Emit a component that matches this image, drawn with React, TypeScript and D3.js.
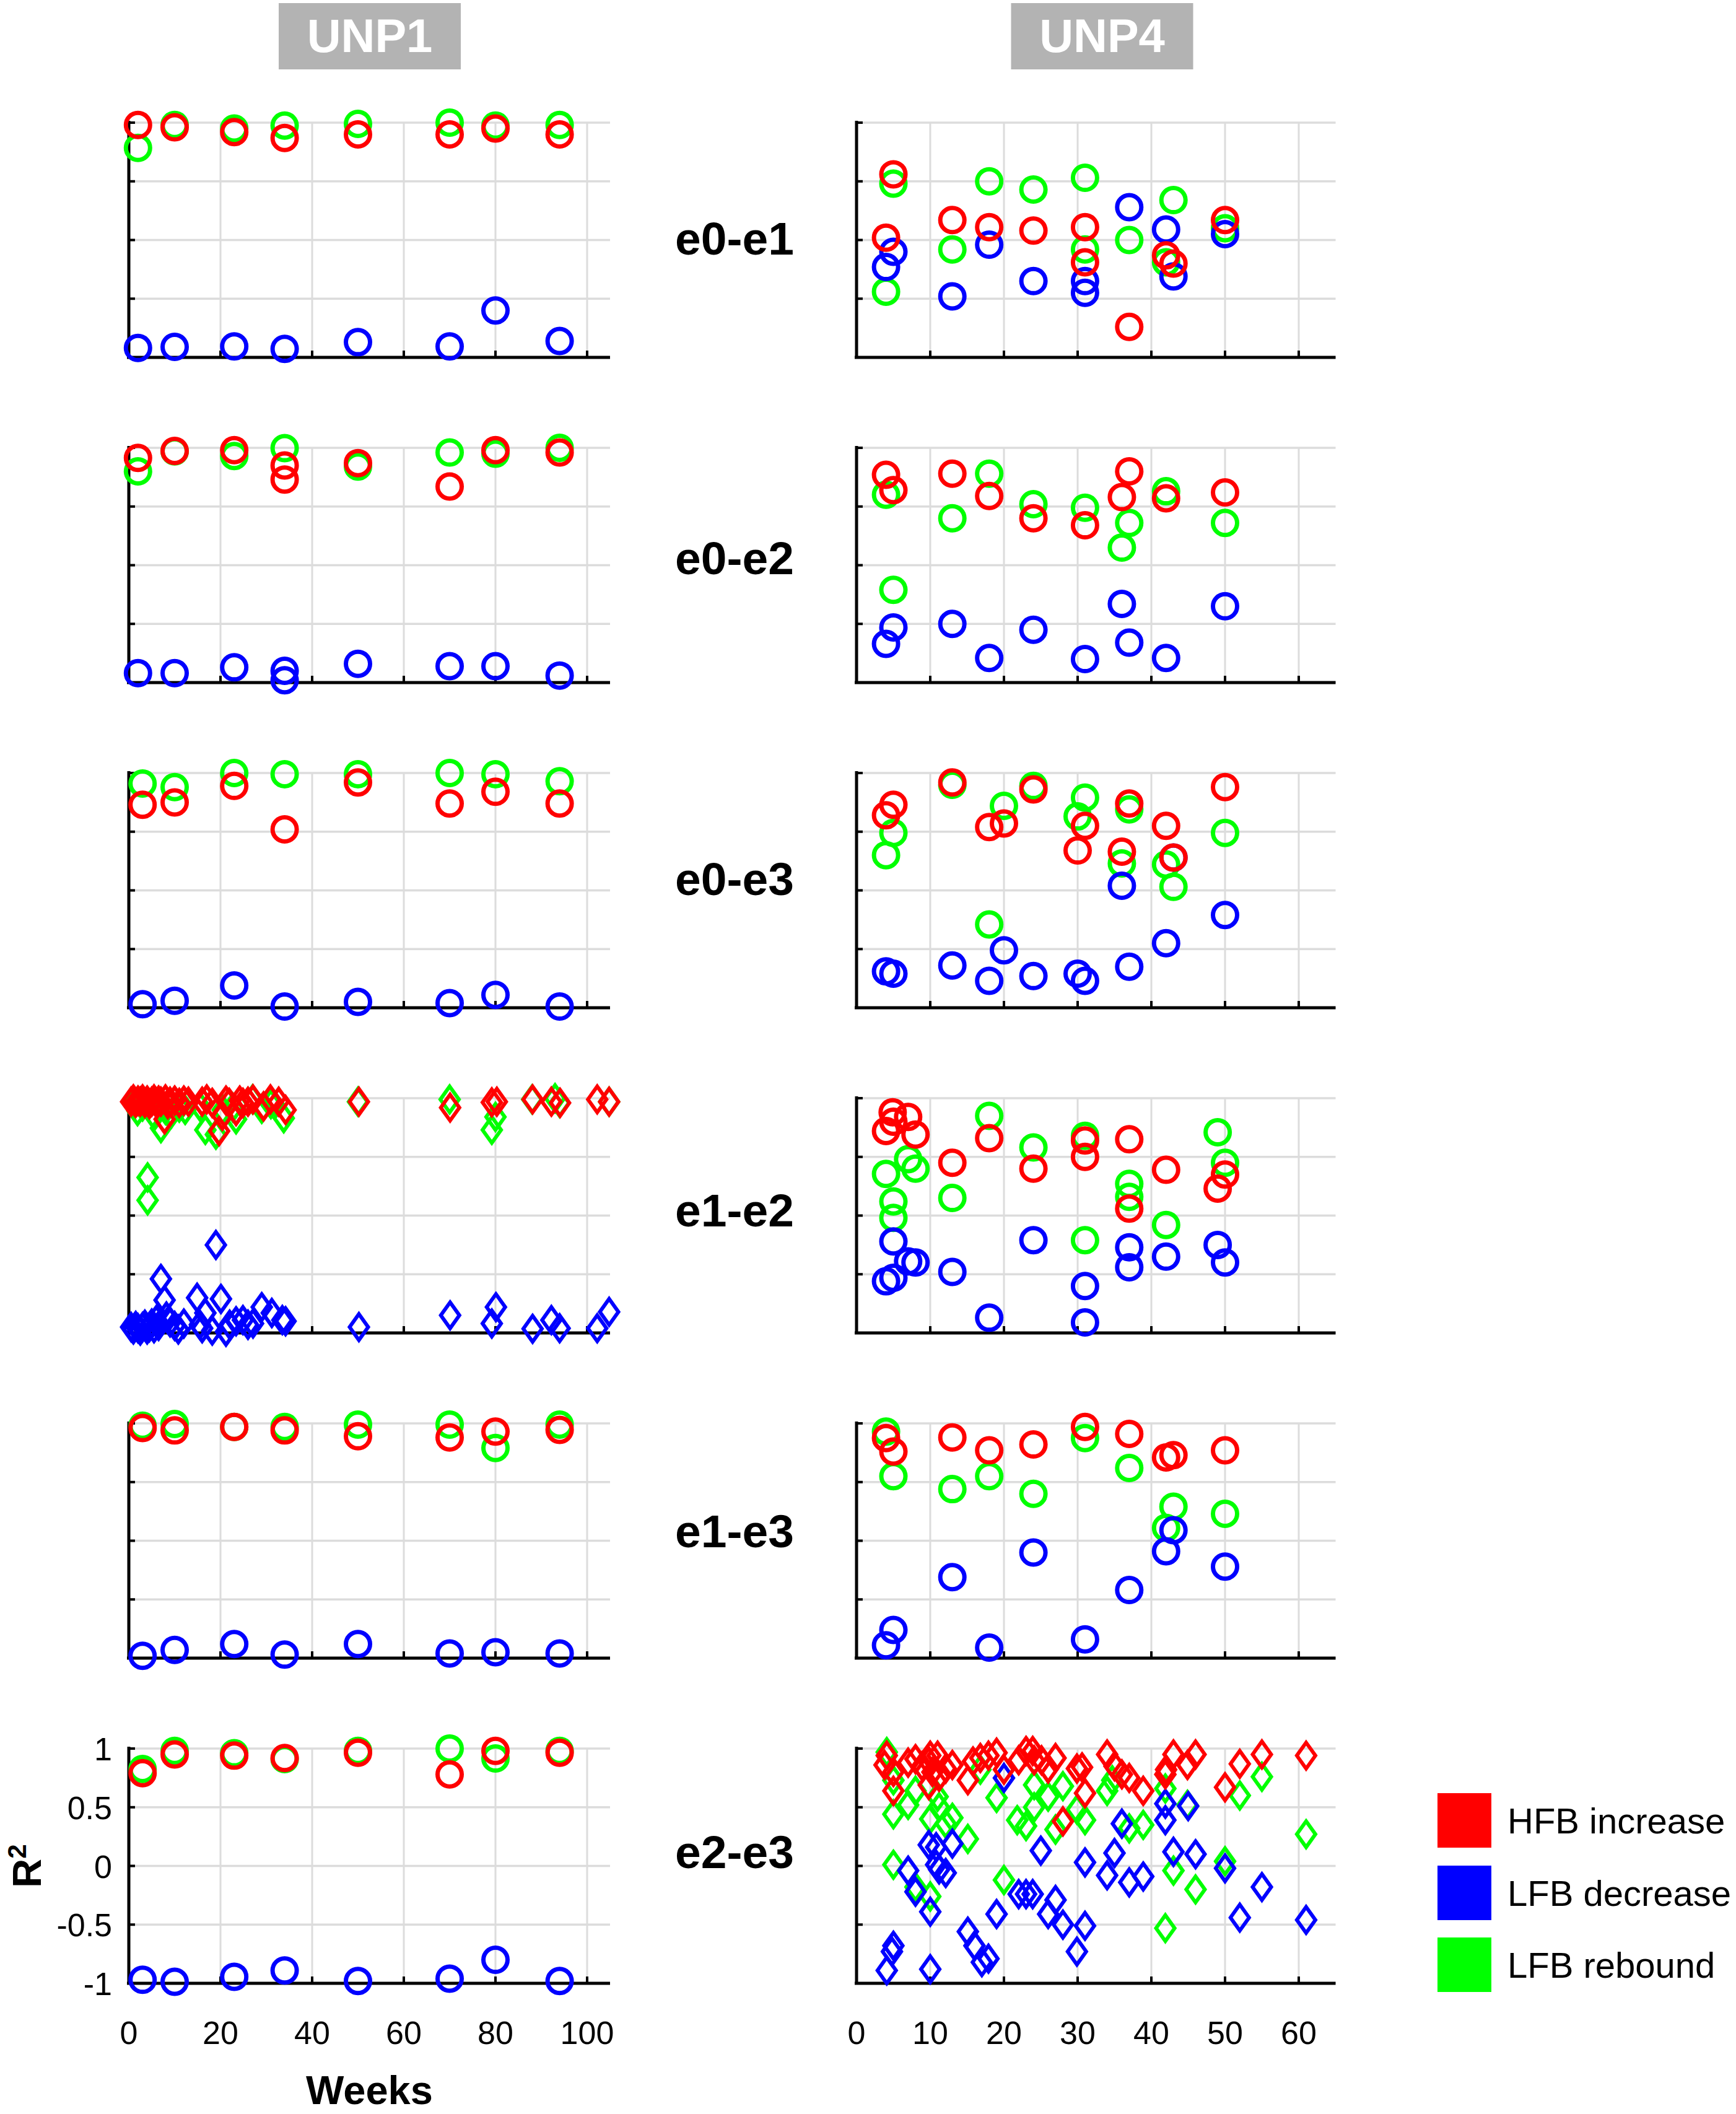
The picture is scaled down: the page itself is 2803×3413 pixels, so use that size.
import React, { useEffect, useRef } from "react";
import * as d3 from "d3";

type Pt = [number, number];

const svgWidth = 2803;
const svgHeight = 3413;

const ROW_LABELS = ["e0-e1", "e0-e2", "e0-e3", "e1-e2", "e1-e3", "e2-e3"];
const COL_TITLES = ["UNP1", "UNP4"];
const UNP1_TICKS = [0, 20, 40, 60, 80, 100];
const UNP4_TICKS = [0, 10, 20, 30, 40, 50, 60];
const R2_TICKS = [-1, -0.5, 0, 0.5, 1];
const LEGEND_LABELS = ["HFB increase", "LFB decrease", "LFB rebound"];
const SERIES_COLORS = ["#ff0000", "#0000ff", "#00ff00"];

// ---- UNP1 (weeks 0-105) ----
const unp1_e0e1_hfb: Pt[] = [[2, 0.98], [10, 0.96], [23, 0.92], [34, 0.87], [50, 0.9], [70, 0.9], [80, 0.95], [94, 0.9]];
const unp1_e0e1_dec: Pt[] = [[2, -0.92], [10, -0.91], [23, -0.906], [34, -0.927], [50, -0.87], [70, -0.906], [80, -0.6], [94, -0.86]];
const unp1_e0e1_reb: Pt[] = [[2, 0.785], [10, 0.98], [23, 0.95], [34, 0.975], [50, 0.99], [70, 1.0], [80, 0.975], [94, 0.98]];

const unp1_e0e2_hfb: Pt[] = [[2, 0.914], [10, 0.974], [23, 0.98], [34, 0.85], [34, 0.73], [50, 0.87], [70, 0.67], [80, 0.98], [94, 0.96]];
const unp1_e0e2_dec: Pt[] = [[2, -0.92], [10, -0.92], [23, -0.87], [34, -0.9], [34, -0.98], [50, -0.84], [70, -0.86], [80, -0.86], [94, -0.94]];
const unp1_e0e2_reb: Pt[] = [[2, 0.8], [10, 0.97], [23, 0.93], [34, 0.997], [50, 0.84], [70, 0.96], [80, 0.95], [94, 1.0]];

const unp1_e0e3_hfb: Pt[] = [[3, 0.73], [10, 0.75], [23, 0.89], [34, 0.52], [50, 0.92], [70, 0.74], [80, 0.84], [94, 0.74]];
const unp1_e0e3_dec: Pt[] = [[3, -0.97], [10, -0.94], [23, -0.81], [34, -0.99], [50, -0.95], [70, -0.96], [80, -0.89], [94, -0.99]];
const unp1_e0e3_reb: Pt[] = [[3, 0.91], [10, 0.88], [23, 1.0], [34, 0.99], [50, 0.99], [70, 1.0], [80, 0.99], [94, 0.93]];

const unp1_e1e2_hfb: Pt[] = [
  [0.5, 0.97], [1, 0.99], [1.5, 0.96], [2, 0.98], [2.5, 0.97], [3, 0.99], [3.5, 0.96], [4, 0.98], [4.5, 0.95],
  [5, 0.97], [5.5, 0.99], [6, 0.96], [6.5, 0.98], [7, 0.97], [7.8, 0.82], [8, 0.99], [8.5, 0.95], [9, 0.97],
  [10, 0.98], [11, 0.96], [12, 0.98], [13, 0.97], [16, 0.97], [17, 0.99], [18.2, 0.96], [19.7, 0.72], [20.4, 0.85],
  [21.2, 0.98], [21.9, 0.96], [23.4, 0.89], [24.2, 0.98], [24.9, 0.96], [26, 0.97], [27.1, 0.99], [29.4, 0.93],
  [30.9, 0.99], [32.7, 0.97], [34.2, 0.9], [50.2, 0.97], [70.1, 0.92], [79.2, 0.965], [80.3, 0.97], [88.1, 0.99],
  [92.2, 0.97], [94.1, 0.96], [102.2, 0.99], [104.8, 0.97],
];
const unp1_e1e2_dec: Pt[] = [
  [0.5, -0.95], [1, -0.97], [1.5, -0.94], [2, -0.96], [2.5, -0.98], [3, -0.95], [3.5, -0.93], [4, -0.97],
  [4.5, -0.95], [5, -0.92], [5.5, -0.96], [6, -0.89], [6.5, -0.94], [7, -0.54], [7.8, -0.72], [8.2, -0.86],
  [9, -0.91], [10, -0.94], [10.8, -0.97], [12, -0.92], [14.9, -0.7], [15.5, -0.93], [16, -0.96], [16.7, -0.83],
  [18.2, -0.98], [19, -0.25], [20.1, -0.71], [21.2, -0.99], [22, -0.93], [23.4, -0.9], [24.9, -0.89], [26, -0.93],
  [27.1, -0.92], [29, -0.78], [31.2, -0.83], [33.5, -0.89], [34.2, -0.9], [50.2, -0.95], [70.1, -0.85],
  [79.2, -0.92], [80.1, -0.78], [88.1, -0.965], [92.2, -0.89], [94, -0.96], [102.2, -0.96], [104.8, -0.82],
];
const unp1_e1e2_reb: Pt[] = [
  [1, 0.95], [1.9, 0.89], [3, 0.93], [4.1, 0.325], [4.1, 0.13], [5.6, 0.85], [7, 0.745], [8, 0.9], [9.3, 0.87],
  [11, 0.92], [12.3, 0.9], [15.5, 0.93], [16.7, 0.73], [19, 0.69], [20.5, 0.9], [22.7, 0.92], [23.4, 0.82],
  [27, 0.99], [29, 0.91], [31, 0.95], [33.8, 0.83], [50, 0.97], [70, 0.99], [79.2, 0.73], [80, 0.84], [88, 0.99],
  [93, 1.0], [94, 0.96], [104.8, 0.97],
];

const unp1_e1e3_hfb: Pt[] = [[3, 0.96], [10, 0.94], [23, 0.97], [34, 0.94], [50, 0.89], [70, 0.88], [80, 0.93], [94, 0.945]];
const unp1_e1e3_dec: Pt[] = [[3, -0.98], [10, -0.93], [23, -0.88], [34, -0.97], [50, -0.88], [70, -0.96], [80, -0.95], [94, -0.96]];
const unp1_e1e3_reb: Pt[] = [[3, 0.98], [10, 0.995], [23, 0.97], [34, 0.97], [50, 0.99], [70, 0.99], [80, 0.79], [94, 0.99]];

const unp1_e2e3_hfb: Pt[] = [[3, 0.79], [10, 0.95], [23, 0.94], [34, 0.92], [50, 0.965], [70, 0.78], [80, 0.98], [94, 0.965]];
const unp1_e2e3_dec: Pt[] = [[3, -0.97], [10, -0.987], [23, -0.944], [34, -0.89], [50, -0.98], [70, -0.96], [80, -0.8], [94, -0.98]];
const unp1_e2e3_reb: Pt[] = [[3, 0.826], [10, 0.98], [23, 0.96], [34, 0.91], [50, 0.98], [70, 1.0], [80, 0.915], [94, 0.98]];

// ---- UNP4 (weeks 0-65) ----
const unp4_e0e1_hfb: Pt[] = [[5, 0.56], [4, 0.02], [13, 0.17], [18, 0.11], [24, 0.08], [31, 0.11], [31, -0.19], [37, -0.74], [42, -0.13], [43, -0.2], [50, 0.17]];
const unp4_e0e1_dec: Pt[] = [[5, -0.1], [4, -0.23], [18, -0.04], [13, -0.48], [24, -0.35], [31, -0.35], [31, -0.45], [37, 0.28], [42, 0.09], [43, -0.31], [50, 0.05]];
const unp4_e0e1_reb: Pt[] = [[5, 0.48], [4, -0.44], [13, -0.08], [18, 0.5], [24, 0.43], [31, 0.53], [31, -0.08], [37, 0.0], [43, 0.34], [42, -0.19], [50, 0.1]];

const unp4_e0e2_hfb: Pt[] = [[4, 0.77], [5, 0.64], [13, 0.78], [18, 0.59], [24, 0.4], [31, 0.34], [36, 0.58], [37, 0.8], [42, 0.57], [50, 0.62]];
const unp4_e0e2_dec: Pt[] = [[4, -0.67], [5, -0.53], [13, -0.5], [18, -0.79], [24, -0.55], [31, -0.8], [36, -0.33], [37, -0.66], [42, -0.79], [50, -0.35]];
const unp4_e0e2_reb: Pt[] = [[4, 0.6], [5, -0.21], [13, 0.4], [18, 0.78], [24, 0.52], [31, 0.49], [36, 0.15], [37, 0.36], [42, 0.63], [50, 0.36]];

const unp4_e0e3_hfb: Pt[] = [[4, 0.64], [5, 0.73], [13, 0.92], [18, 0.54], [20, 0.57], [24, 0.86], [30, 0.34], [31, 0.55], [36, 0.33], [37, 0.74], [42, 0.55], [43, 0.28], [50, 0.88]];
const unp4_e0e3_dec: Pt[] = [[4, -0.69], [5, -0.71], [13, -0.64], [18, -0.77], [20, -0.51], [24, -0.73], [30, -0.71], [31, -0.77], [36, 0.04], [37, -0.65], [42, -0.45], [43, 0.28], [50, -0.21]];
const unp4_e0e3_reb: Pt[] = [[4, 0.3], [5, 0.49], [13, 0.9], [18, -0.29], [20, 0.72], [24, 0.89], [30, 0.63], [31, 0.79], [36, 0.23], [37, 0.69], [42, 0.22], [43, 0.03], [50, 0.49]];

const unp4_e1e2_hfb: Pt[] = [[4, 0.72], [4.9, 0.88], [5, 0.8], [7, 0.84], [8, 0.69], [13, 0.45], [18, 0.66], [24, 0.4], [31, 0.64], [31, 0.5], [37, 0.65], [37, 0.06], [42, 0.39], [49, 0.23], [50, 0.35]];
const unp4_e1e2_dec: Pt[] = [[4, -0.56], [5, -0.22], [5, -0.53], [7, -0.39], [8, -0.4], [13, -0.48], [18, -0.87], [24, -0.21], [31, -0.6], [31, -0.91], [37, -0.27], [37, -0.44], [42, -0.35], [49, -0.25], [50, -0.4]];
const unp4_e1e2_reb: Pt[] = [[4, 0.355], [5, 0.12], [5, -0.02], [7, 0.48], [8, 0.4], [13, 0.15], [18, 0.85], [24, 0.58], [31, 0.68], [31, -0.21], [37, 0.27], [37, 0.16], [42, -0.08], [49, 0.71], [50, 0.45]];

const unp4_e1e3_hfb: Pt[] = [[4, 0.875], [5, 0.76], [13, 0.88], [18, 0.77], [24, 0.82], [31, 0.97], [37, 0.91], [42, 0.71], [43, 0.73], [50, 0.77]];
const unp4_e1e3_dec: Pt[] = [[4, -0.89], [5, -0.76], [13, -0.31], [18, -0.91], [24, -0.1], [31, -0.84], [37, -0.42], [42, -0.09], [43, 0.09], [50, -0.22]];
const unp4_e1e3_reb: Pt[] = [[4, 0.93], [5, 0.55], [13, 0.44], [18, 0.55], [24, 0.4], [31, 0.875], [37, 0.62], [42, 0.11], [43, 0.29], [50, 0.23]];

const unp4_e2e3_hfb: Pt[] = [
  [4.1, 0.94], [3.8, 0.86], [5, 0.8], [5, 0.64], [7, 0.88], [8, 0.91], [8.9, 0.85], [9.8, 0.89], [10, 0.94], [11, 0.94],
  [10.3, 0.8], [9.8, 0.69], [11.2, 0.76], [12.1, 0.83], [13, 0.86], [15.1, 0.73], [15.8, 0.89], [16.8, 0.92],
  [17.9, 0.94], [19, 0.965], [20, 0.82], [22, 0.9], [23, 0.98], [23.9, 0.98], [24.1, 0.9], [25.1, 0.9], [26, 0.83],
  [27, 0.92], [28, 0.38], [29.9, 0.83], [30.6, 0.84], [31, 0.62], [34, 0.95], [35, 0.85], [36, 0.78], [37, 0.75],
  [38.9, 0.64], [41.9, 0.78], [42, 0.82], [43, 0.95], [44.9, 0.86], [46, 0.95], [50, 0.67], [52, 0.87], [55, 0.95],
  [61, 0.94],
];
const unp4_e2e3_dec: Pt[] = [
  [20, 0.75], [9.8, 0.18], [10.8, 0.16], [13, 0.19], [10.8, 0.01], [11.2, -0.03], [12.1, -0.06], [7, -0.04],
  [8, -0.22], [10, -0.39], [5, -0.68], [4.8, -0.73], [4.1, -0.89], [10, -0.88], [15.1, -0.56], [16, -0.68],
  [17, -0.82], [17.9, -0.79], [19, -0.41], [22, -0.24], [23, -0.24], [23.9, -0.24], [25, 0.13], [26, -0.41],
  [27, -0.29], [28, -0.5], [29.9, -0.73], [31, -0.51], [31, 0.03], [34, -0.08], [35, 0.11], [36, 0.36], [37, -0.14],
  [38.9, -0.09], [41.9, 0.53], [41.9, 0.39], [43, 0.12], [45, 0.51], [46, 0.1], [50, -0.02], [52, -0.44],
  [55, -0.18], [61, -0.46],
];
const unp4_e2e3_reb: Pt[] = [
  [4.1, 0.97], [5, 0.73], [5, 0.44], [7, 0.52], [8, 0.64], [5, 0.01], [8, -0.18], [10, -0.26], [10, 0.4], [11, 0.59],
  [11.2, 0.5], [12.1, 0.36], [13, 0.41], [15.1, 0.23], [16.8, 0.82], [19, 0.58], [20, -0.12], [21.8, 0.39],
  [23, 0.34], [24.1, 0.69], [24.1, 0.5], [26, 0.59], [27, 0.31], [28, 0.68], [29.9, 0.48], [31, 0.39], [34, 0.64],
  [34.7, 0.73], [37, 0.32], [38.9, 0.35], [41.9, 0.66], [43, -0.04], [44.9, 0.52], [46, -0.2], [50, 0.04], [52, 0.6],
  [55, 0.76], [41.9, -0.53], [61, 0.27],
];

interface Panel {
  col: number;
  row: number;
  diamond: boolean;
  hfb: Pt[];
  dec: Pt[];
  reb: Pt[];
}

const PANELS: Panel[] = [
  { col: 0, row: 0, diamond: false, hfb: unp1_e0e1_hfb, dec: unp1_e0e1_dec, reb: unp1_e0e1_reb },
  { col: 0, row: 1, diamond: false, hfb: unp1_e0e2_hfb, dec: unp1_e0e2_dec, reb: unp1_e0e2_reb },
  { col: 0, row: 2, diamond: false, hfb: unp1_e0e3_hfb, dec: unp1_e0e3_dec, reb: unp1_e0e3_reb },
  { col: 0, row: 3, diamond: true, hfb: unp1_e1e2_hfb, dec: unp1_e1e2_dec, reb: unp1_e1e2_reb },
  { col: 0, row: 4, diamond: false, hfb: unp1_e1e3_hfb, dec: unp1_e1e3_dec, reb: unp1_e1e3_reb },
  { col: 0, row: 5, diamond: false, hfb: unp1_e2e3_hfb, dec: unp1_e2e3_dec, reb: unp1_e2e3_reb },
  { col: 1, row: 0, diamond: false, hfb: unp4_e0e1_hfb, dec: unp4_e0e1_dec, reb: unp4_e0e1_reb },
  { col: 1, row: 1, diamond: false, hfb: unp4_e0e2_hfb, dec: unp4_e0e2_dec, reb: unp4_e0e2_reb },
  { col: 1, row: 2, diamond: false, hfb: unp4_e0e3_hfb, dec: unp4_e0e3_dec, reb: unp4_e0e3_reb },
  { col: 1, row: 3, diamond: false, hfb: unp4_e1e2_hfb, dec: unp4_e1e2_dec, reb: unp4_e1e2_reb },
  { col: 1, row: 4, diamond: false, hfb: unp4_e1e3_hfb, dec: unp4_e1e3_dec, reb: unp4_e1e3_reb },
  { col: 1, row: 5, diamond: true, hfb: unp4_e2e3_hfb, dec: unp4_e2e3_dec, reb: unp4_e2e3_reb },
];

const FONT = "'Liberation Sans', Arial, Helvetica, sans-serif";

const App = () => {
  const svgRef = useRef<SVGSVGElement>(null);

  useEffect(() => {
    const svg = d3.select(svgRef.current);
    svg.selectAll("*").remove();

    const PANEL_TOP = 198;
    const ROW_STEP = 525;
    const PANEL_H = 379;
    const COLS = [
      { left: 208, width: 777, domain: [0, 105], ticks: UNP1_TICKS, title: 597 },
      { left: 1383, width: 773.5, domain: [0, 65], ticks: UNP4_TICKS, title: 1779.5 },
    ];
    // row labels sit a little above each panel's middle
    const LABEL_SHIFT = [-4, -13, -20, -10, -17, -24];

    // column titles
    COL_TITLES.forEach((t, i) => {
      const cx = COLS[i].title;
      svg.append("rect").attr("x", cx - 147).attr("y", 5).attr("width", 294).attr("height", 107).attr("fill", "#b3b3b3");
      svg
        .append("text")
        .attr("x", cx)
        .attr("y", 84)
        .attr("text-anchor", "middle")
        .attr("font-family", FONT)
        .attr("font-weight", "bold")
        .attr("font-size", 76)
        .attr("fill", "#ffffff")
        .text(t);
    });

    // row labels
    ROW_LABELS.forEach((lab, r) => {
      const cy = PANEL_TOP + r * ROW_STEP + PANEL_H / 2 + LABEL_SHIFT[r];
      svg
        .append("text")
        .attr("x", 1186)
        .attr("y", cy + 27)
        .attr("text-anchor", "middle")
        .attr("font-family", FONT)
        .attr("font-weight", "bold")
        .attr("font-size", 75)
        .attr("fill", "#000")
        .text(lab);
    });

    const diamondPath = "M0,-21L15,0L0,21L-15,0Z";

    PANELS.forEach((p) => {
      const c = COLS[p.col];
      const top = PANEL_TOP + p.row * ROW_STEP;
      const g = svg.append("g").attr("transform", `translate(${c.left}, ${top})`);

      const x = d3.scaleLinear().domain(c.domain).range([0, c.width]);
      const y = d3.scaleLinear().domain([-1, 1]).range([PANEL_H, 0]);

      // grid
      g.selectAll(".hgrid")
        .data(R2_TICKS)
        .enter()
        .append("line")
        .attr("x1", 0)
        .attr("x2", c.width)
        .attr("y1", (d) => y(d))
        .attr("y2", (d) => y(d))
        .attr("stroke", "#dcdcdc")
        .attr("stroke-width", 3.5);
      g.selectAll(".vgrid")
        .data(c.ticks.filter((d) => d > 0))
        .enter()
        .append("line")
        .attr("x1", (d) => x(d))
        .attr("x2", (d) => x(d))
        .attr("y1", 0)
        .attr("y2", PANEL_H)
        .attr("stroke", "#dcdcdc")
        .attr("stroke-width", 3);

      // axes
      g.append("line").attr("x1", 0).attr("x2", 0).attr("y1", -3).attr("y2", PANEL_H + 2).attr("stroke", "#000").attr("stroke-width", 5);
      g.append("line").attr("x1", -3).attr("x2", c.width).attr("y1", PANEL_H).attr("y2", PANEL_H).attr("stroke", "#000").attr("stroke-width", 5);
      g.selectAll(".ytick")
        .data(R2_TICKS)
        .enter()
        .append("line")
        .attr("x1", 0)
        .attr("x2", 10)
        .attr("y1", (d) => y(d))
        .attr("y2", (d) => y(d))
        .attr("stroke", "#000")
        .attr("stroke-width", 4);
      g.selectAll(".xtick")
        .data(c.ticks)
        .enter()
        .append("line")
        .attr("x1", (d) => x(d))
        .attr("x2", (d) => x(d))
        .attr("y1", PANEL_H)
        .attr("y2", PANEL_H - 11)
        .attr("stroke", "#000")
        .attr("stroke-width", 4);

      // markers: rebound, decrease, then increase on top
      const series: [Pt[], string][] = [
        [p.reb, SERIES_COLORS[2]],
        [p.dec, SERIES_COLORS[1]],
        [p.hfb, SERIES_COLORS[0]],
      ];
      series.forEach(([pts, col]) => {
        if (p.diamond) {
          g.selectAll(null)
            .data(pts)
            .enter()
            .append("path")
            .attr("d", diamondPath)
            .attr("transform", (d) => `translate(${x(d[0])},${y(d[1])})`)
            .attr("fill", "none")
            .attr("stroke", col)
            .attr("stroke-width", 6);
        } else {
          g.selectAll(null)
            .data(pts)
            .enter()
            .append("circle")
            .attr("cx", (d) => x(d[0]))
            .attr("cy", (d) => y(d[1]))
            .attr("r", 19.5)
            .attr("fill", "none")
            .attr("stroke", col)
            .attr("stroke-width", 7);
        }
      });

      // tick labels on bottom row
      if (p.row === 5) {
        g.selectAll(".xlab")
          .data(c.ticks)
          .enter()
          .append("text")
          .attr("x", (d) => x(d))
          .attr("y", PANEL_H + 98)
          .attr("text-anchor", "middle")
          .attr("font-family", FONT)
          .attr("font-size", 52)
          .attr("fill", "#000")
          .text((d) => String(d));
        if (p.col === 0) {
          g.selectAll(".ylab")
            .data(R2_TICKS)
            .enter()
            .append("text")
            .attr("x", -27)
            .attr("y", (d) => y(d) + 19)
            .attr("text-anchor", "end")
            .attr("font-family", FONT)
            .attr("font-size", 52)
            .attr("fill", "#000")
            .text((d) => String(d));
          g.append("text")
            .attr("x", c.width / 2)
            .attr("y", PANEL_H + 195)
            .attr("text-anchor", "middle")
            .attr("font-family", FONT)
            .attr("font-weight", "bold")
            .attr("font-size", 65)
            .attr("fill", "#000")
            .text("Weeks");
          const r2 = g
            .append("text")
            .attr("transform", `translate(${-142}, ${PANEL_H / 2}) rotate(-90)`)
            .attr("text-anchor", "middle")
            .attr("font-family", FONT)
            .attr("font-weight", "bold")
            .attr("font-size", 65)
            .attr("fill", "#000");
          r2.append("tspan").text("R");
          r2.append("tspan").attr("font-size", 42).attr("dy", -24).text("2");
        }
      }
    });

    // legend
    LEGEND_LABELS.forEach((lab, i) => {
      const ly = [2895, 3012, 3128][i];
      svg.append("rect").attr("x", 2321).attr("y", ly).attr("width", 87).attr("height", 88).attr("fill", SERIES_COLORS[i]);
      svg
        .append("text")
        .attr("x", 2434)
        .attr("y", ly + 65)
        .attr("font-family", FONT)
        .attr("font-size", 58)
        .attr("fill", "#000")
        .text(lab);
    });
  }, []);

  return (
    <svg
      ref={svgRef}
      width={svgWidth}
      height={svgHeight}
      style={{ position: "absolute", left: 0, top: 0, background: "#fff" }}
    />
  );
};

export default App;
